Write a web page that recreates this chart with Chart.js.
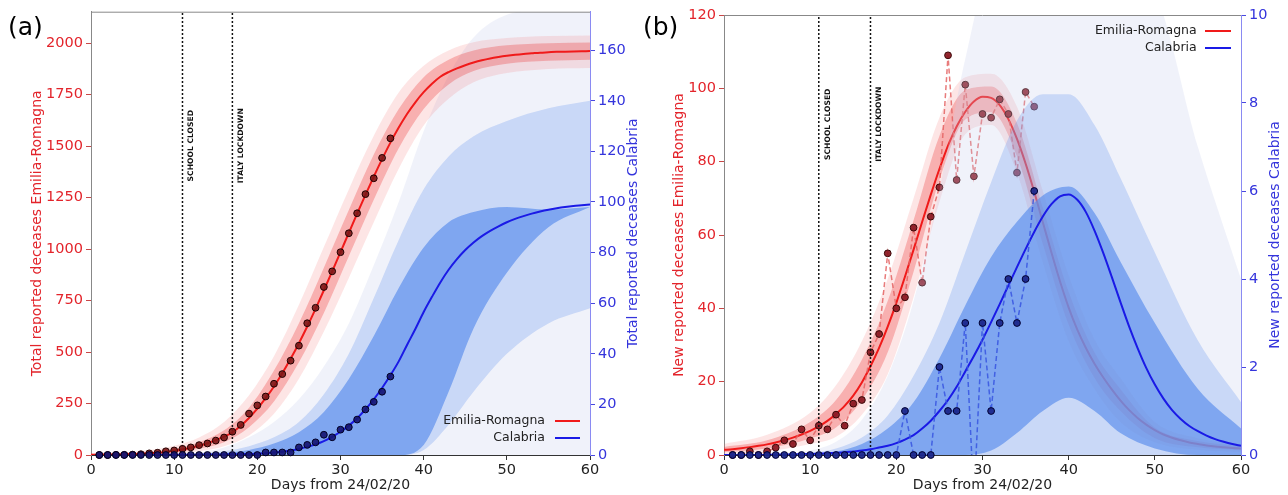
<!DOCTYPE html>
<html>
<head>
<meta charset="utf-8">
<script src="https://cdn.jsdelivr.net/npm/chart.js@4.4.1/dist/chart.umd.min.js"></script>
<style>
  html, body { margin: 0; padding: 0; background: #fff; }
  #wrap { position: relative; width: 1288px; height: 495px; overflow: hidden; }
  canvas { position: absolute; top: 0; }
  #cA { left: 0; }
  #cB { left: 640px; }
</style>
</head>
<body>
<div id="wrap">
  <canvas id="cA" width="650" height="495"></canvas>
  <canvas id="cB" width="648" height="495"></canvas>
</div>
<script>
// ---- data ----
const seriesNames = ['Emilia-Romagna', 'Calabria'];
const eventDays = [11, 17];
const eventLabels = ['SCHOOL CLOSED', 'ITALY LOCKDOWN'];
const xTitle = 'Days from 24/02/20';

const fitDays = [0,1,2,3,4,5,6,7,8,9,10,11,12,13,14,15,16,17,18,19,20,21,22,23,24,25,26,27,28,29,30,
  31,32,33,34,35,36,37,38,39,40,41,42,43,44,45,46,47,48,49,50,51,52,53,54,55,56,57,58,59,60];
const obsDays = [1,2,3,4,5,6,7,8,9,10,11,12,13,14,15,16,17,18,19,20,21,22,23,24,25,26,27,28,29,30,31,32,33,34,35,36];
const bandDays = [0,5,10,13,16,19,22,25,28,31,34,37,40,43,46,50,55,60];

// (a) total reported deceases
const erTotal = [0,0,1,1,2,4,8,11,18,22,30,37,48,56,70,85,113,146,201,241,
  284,346,393,458,531,640,715,816,892,985,1077,1174,1267,1344,1443,1538];
const calTotal = [0,0,0,0,0,0,0,0,0,0,0,0,0,0,0,0,0,0,0,0,1,1,1,1,3,4,5,8,7,10,11,14,18,21,25,31];
const erTotalFit = [1,2,2,3,4,5,6,8,11,15,20,27,35,45,57,72,89,110,142,180,225,
  276,333,397,467,543,624,710,800,892,985,1079,1172,1263,1352,1437,1517,1590,1656,1713,1762,
  1803,1837,1860,1878,1893,1906,1917,1926,1933,1939,1944,1948,1951,1954,1956,1958,1959,1960,1961,1962];
const calTotalFit = [0,0,0,0,0,0,0,0,0.1,0.1,0.1,0.1,0.1,0.1,0.2,0.2,0.2,0.3,0.3,0.4,0.5,
  0.7,1.0,1.3,1.8,2.4,3.2,4.2,5.5,7.2,9.2,11.6,14.5,18,22,26.5,31.5,37,43.5,49.8,56.5,
  62.5,68.2,73.2,77.4,81,84,86.5,88.6,90.4,92,93.3,94.4,95.4,96.2,96.9,97.5,98,98.4,98.7,99];
const erTotalInnerHi = [4,9,30,62,120,230,410,640,910,1190,1460,1680,1835,1920,1965,1990,2000,2003];
const erTotalInnerLo = [0,2,12,30,62,135,260,450,690,965,1240,1490,1680,1800,1865,1900,1915,1920];
const erTotalOuterHi = [8,16,45,85,160,290,480,730,1010,1290,1550,1760,1890,1965,2005,2025,2035,2038];
const erTotalOuterLo = [0,0,5,18,42,95,200,370,600,860,1130,1390,1600,1730,1810,1855,1875,1880];
const calTotalFanHi = [0,0,0.3,1,3,7,13,22,35,52,75,100,128,150,165,174,176,176];
const calTotalMidHi = [0,0,0.2,0.5,1.5,3.5,7,13,24,40,62,85,105,118,126,132,137,140];
const calTotalMidLo = [0,0,0,0,0,0,0,0,0,0,0,0,2,12,25,40,52,58];
const calTotalCoreHi = [0,0,0.1,0.3,0.8,2,4.5,9,17,30,47,66,82,92,96,98,97,98];
const calTotalCoreLo = [0,0,0,0,0,0,0,0,0,0,0,0,4,25,50,72,90,98];

// (b) new reported deceases
const erNew = [0,0,1,0,1,2,4,3,7,4,8,7,11,8,14,15,28,33,55,40,43,62,47,65,73,109,75,101,76,93,92,97,93,77,99,95];
const calNew = [0,0,0,0,0,0,0,0,0,0,0,0,0,0,0,0,0,0,0,0,1,0,0,0,2,1,1,3,-1,3,1,3,4,3,4,6];
const erNewFit = [1.4,1.6,1.85,2.15,2.5,2.9,3.4,4.0,4.75,5.6,6.6,7.8,9.3,11.2,13.4,16.2,19.8,24.2,29.2,35,41.5,
  48.6,56,63.6,71,78,84.4,89.6,93.6,96.4,97.7,97.4,95.4,91.6,86.2,79.5,71.8,63.5,55.2,47.3,40.2,
  34.2,29.2,24.9,21.2,17.9,14.9,12.3,10.1,8.3,6.8,5.6,4.7,4.0,3.4,3.0,2.6,2.3,2.1,1.9,1.8];
const calNewFit = [0,0,0,0,0,0,0.01,0.01,0.01,0.02,0.02,0.03,0.04,0.05,0.06,0.08,0.1,0.13,0.17,0.21,0.27,
  0.35,0.45,0.6,0.78,1.0,1.25,1.55,1.9,2.25,2.62,3.02,3.43,3.85,4.27,4.68,5.07,5.42,5.7,5.88,5.92,
  5.8,5.52,5.1,4.6,4.05,3.48,2.93,2.43,1.98,1.6,1.28,1.02,0.82,0.66,0.54,0.44,0.36,0.3,0.25,0.21];
const erNewInnerHi = [2.2,4,9,15,26,42,64,87,99.5,100.5,90.5,67.5,44.5,28,18,7.5,3.8,2.4];
const erNewInnerLo = [0.8,1.8,4.5,7.5,15,28,50,75,91.5,93.5,81.5,57.5,35.5,21,12,4.6,2.1,1.3];
const erNewOuterHi = [3,5.5,11.5,19,31,48,70,92,103,104,95,72,49,31.5,21,9,4.6,3];
const erNewOuterLo = [0.3,1,3,5,11,22,43,69,87.5,90,77,52.5,31,18,9,3.5,1.4,0.8];
const calNewFanHi = [0,0,0.1,0.3,0.8,1.8,3.5,6,9,11,11,11,11,11,11,10.5,7,4];
const calNewMidHi = [0,0,0.05,0.15,0.4,0.9,1.8,3,4.6,6.2,7.6,8.2,8.2,7.5,6.3,4.6,2.6,1.2];
const calNewCoreHi = [0,0,0.02,0.08,0.25,0.6,1.2,2.2,3.4,4.5,5.3,5.9,6.1,5.5,4.4,3.0,1.5,0.6];
const calNewCoreLo = [0,0,0,0,0,0,0,0,0,0.1,0.5,1.0,1.3,1.0,0.5,0.15,0,0];

// ---- styling ----
Chart.defaults.font.family = "'DejaVu Sans', sans-serif";
Chart.defaults.color = '#222';
const RED = '#f01a1a', BLUE = '#1a1ae6';
const RED_TXT = '#e3242b', BLUE_TXT = '#3434dc';

function pts(xs, ys) { return xs.map((x, i) => ({ x: x, y: ys[i] })); }

function area(xs, hi, lo, color, axis) {
  const common = { pointRadius: 0, borderWidth: 0, borderColor: 'rgba(0,0,0,0)',
    cubicInterpolationMode: 'monotone', yAxisID: axis };
  if (!lo) return [{ ...common, data: pts(xs, hi), backgroundColor: color, fill: 'origin' }];
  return [
    { ...common, data: pts(xs, hi), backgroundColor: color, fill: '+1' },
    { ...common, data: pts(xs, lo), fill: false }
  ];
}
function curve(xs, ys, color, axis) {
  return { data: pts(xs, ys), borderColor: color, borderWidth: 2, pointRadius: 0, fill: false,
    cubicInterpolationMode: 'monotone', yAxisID: axis };
}
function dashed(xs, ys, color, axis) {
  return { data: pts(xs, ys), borderColor: color, borderWidth: 1.5, borderDash: [5, 3],
    pointRadius: 0, fill: false, yAxisID: axis };
}
function markers(xs, ys, face, edge, axis) {
  return { data: pts(xs, ys), showLine: false, pointRadius: 3.4, pointBackgroundColor: face,
    pointBorderColor: edge, pointBorderWidth: 1, yAxisID: axis, clip: 5 };
}
function vline(day, top) {
  return { data: [{ x: day, y: 0 }, { x: day, y: top }], borderColor: '#111', borderWidth: 1.5,
    borderDash: [2, 2], pointRadius: 0, fill: false, yAxisID: 'y' };
}
// list is back-to-front; lower order is drawn on top
function stack(list) {
  return list.map((d, i) => ({ ...d, order: list.length - i }));
}

const decor = {
  id: 'decor',
  afterDatasetsDraw(chart, args, o) {
    const { ctx, chartArea: a, scales } = chart;
    ctx.save();
    ctx.strokeStyle = '#888';
    ctx.lineWidth = 1;
    ctx.beginPath();
    ctx.moveTo(a.left, a.top + 0.5);
    ctx.lineTo(a.right, a.top + 0.5);
    ctx.stroke();

    // event annotations
    ctx.fillStyle = '#111';
    ctx.font = "bold 7.6px 'DejaVu Sans'";
    ctx.textAlign = 'center';
    ctx.textBaseline = 'middle';
    eventDays.forEach((d, i) => {
      const x = scales.x.getPixelForValue(d) + o.eventDx;
      const y = scales.y.getPixelForValue(o.eventY);
      ctx.save();
      ctx.translate(x, y);
      ctx.rotate(-Math.PI / 2);
      ctx.fillText(eventLabels[i], 0, 0);
      ctx.restore();
    });

    // legend (text before the line)
    ctx.font = "12.5px 'DejaVu Sans'";
    ctx.textAlign = 'right';
    ctx.fillStyle = '#222';
    [RED, BLUE].forEach((c, i) => {
      const y = o.legend.rows[i];
      ctx.fillText(seriesNames[i], o.legend.textX, y);
      ctx.strokeStyle = c;
      ctx.lineWidth = 2;
      ctx.beginPath();
      ctx.moveTo(o.legend.x1, y);
      ctx.lineTo(o.legend.x2, y);
      ctx.stroke();
    });

    // right axis title, reading upwards
    ctx.save();
    ctx.translate(a.right + o.rightTitleDx, (a.top + a.bottom) / 2);
    ctx.rotate(-Math.PI / 2);
    ctx.textAlign = 'center';
    ctx.fillStyle = BLUE_TXT;
    ctx.font = "14px 'DejaVu Sans'";
    ctx.fillText(o.rightTitle, 0, 0);
    ctx.restore();

    // panel letter
    ctx.textAlign = 'left';
    ctx.fillStyle = '#000';
    ctx.font = "25px 'DejaVu Sans'";
    ctx.fillText(o.letter, o.letterX, 28);
    ctx.restore();
  }
};

const plain = v => String(v);

function makeScales(p) {
  return {
    x: {
      type: 'linear', min: 0, max: 60,
      ticks: { stepSize: 10, color: '#222', font: { size: 14.5 }, padding: 2, maxRotation: 0, callback: plain },
      grid: { drawOnChartArea: false, tickLength: 5, color: '#333' },
      border: { color: '#333' },
      title: { display: true, text: xTitle, color: '#222', font: { size: 14 }, padding: { top: 0, bottom: 1.6 } },
      afterFit: s => { s.height = 40; }
    },
    y: {
      type: 'linear', position: 'left', min: 0, max: p.yMax,
      ticks: { stepSize: p.yStep, includeBounds: false, color: RED_TXT, font: { size: 14.5 }, padding: 3, callback: plain },
      grid: { drawOnChartArea: false, tickLength: 5, color: '#c84848' },
      border: { color: '#888' },
      title: { display: true, text: p.yTitle, color: RED_TXT, font: { size: 14 }, padding: { top: p.titlePad, bottom: 0 } },
      afterFit: s => { s.width = p.leftW; }
    },
    y2: {
      type: 'linear', position: 'right', min: 0, max: p.y2Max,
      ticks: { stepSize: p.y2Step, includeBounds: false, color: BLUE_TXT, font: { size: 14.5 }, padding: 3, callback: plain },
      grid: { drawOnChartArea: false, tickLength: 5, color: '#4848e0' },
      border: { color: '#8a8af2' },
      afterFit: s => { s.width = p.rightW; }
    }
  };
}

const FAN = 'rgba(196,205,234,0.26)';
const MID = 'rgba(100,149,237,0.28)';
const CORE = 'rgba(95,145,236,0.7)';
const RED_OUT = 'rgba(245,95,95,0.16)';
const RED_IN = 'rgba(236,52,52,0.3)';

// ---- panel (a) ----
const yMaxA = 2153;
const dsA = stack([
  ...area(bandDays, calTotalFanHi, null, FAN, 'y2'),
  ...area(bandDays, calTotalMidHi, calTotalMidLo, MID, 'y2'),
  ...area(bandDays, calTotalCoreHi, calTotalCoreLo, CORE, 'y2'),
  ...area(bandDays, erTotalOuterHi, erTotalOuterLo, RED_OUT, 'y'),
  ...area(bandDays, erTotalInnerHi, erTotalInnerLo, RED_IN, 'y'),
  vline(eventDays[0], yMaxA),
  vline(eventDays[1], yMaxA),
  curve(fitDays, calTotalFit, BLUE, 'y2'),
  curve(fitDays, erTotalFit, RED, 'y'),
  markers(obsDays, erTotal, 'rgba(125,22,22,0.9)', '#220000', 'y'),
  markers(obsDays, calTotal, 'rgba(22,22,115,0.92)', '#000022', 'y2')
]);

new Chart(document.getElementById('cA'), {
  type: 'line',
  data: { datasets: dsA },
  plugins: [decor],
  options: {
    responsive: false, animation: false, events: [], devicePixelRatio: 1,
    layout: { padding: { top: 11, left: 0, right: 0, bottom: 0 } },
    scales: makeScales({ yMax: yMaxA, yStep: 250, y2Max: 175.2, y2Step: 20, leftW: 91, rightW: 60,
      yTitle: 'Total reported deceases Emilia-Romagna', titlePad: 29.2 }),
    plugins: {
      legend: { display: false }, tooltip: { enabled: false },
      decor: { letter: '(a)', letterX: 8, rightTitle: 'Total reported deceases Calabria', rightTitleDx: 43.4,
        eventY: 1502, eventDx: 9, legend: { textX: 545, x1: 555, x2: 580, rows: [421, 438] } }
    }
  }
});

// ---- panel (b) ----
const yMaxB = 120;
const dsB = stack([
  ...area(bandDays, erNewOuterHi, erNewOuterLo, RED_OUT, 'y'),
  ...area(bandDays, erNewInnerHi, erNewInnerLo, RED_IN, 'y'),
  curve(fitDays, erNewFit, RED, 'y'),
  dashed(obsDays, erNew, 'rgba(228,100,100,0.85)', 'y'),
  markers(obsDays, erNew, 'rgba(140,26,36,0.95)', '#3a0808', 'y'),
  ...area(bandDays, calNewFanHi, null, FAN, 'y2'),
  ...area(bandDays, calNewMidHi, null, MID, 'y2'),
  ...area(bandDays, calNewCoreHi, calNewCoreLo, CORE, 'y2'),
  vline(eventDays[0], yMaxB),
  vline(eventDays[1], yMaxB),
  curve(fitDays, calNewFit, BLUE, 'y2'),
  dashed(obsDays, calNew, 'rgba(55,85,225,0.85)', 'y2'),
  markers(obsDays, calNew, 'rgba(28,40,140,0.95)', '#000030', 'y2')
]);

new Chart(document.getElementById('cB'), {
  type: 'line',
  data: { datasets: dsB },
  plugins: [decor],
  options: {
    responsive: false, animation: false, events: [], devicePixelRatio: 1,
    layout: { padding: { top: 15, left: 0, right: 0, bottom: 0 } },
    scales: makeScales({ yMax: yMaxB, yStep: 20, y2Max: 10, y2Step: 2, leftW: 84, rightW: 47,
      yTitle: 'New reported deceases Emilia-Romagna', titlePad: 30.9 }),
    plugins: {
      legend: { display: false }, tooltip: { enabled: false },
      decor: { letter: '(b)', letterX: 3, rightTitle: 'New reported deceases Calabria', rightTitleDx: 34,
        eventY: 90.2, eventDx: 9, legend: { textX: 556.7, x1: 565, x2: 591, rows: [31, 48] } }
    }
  }
});
</script>
</body>
</html>
